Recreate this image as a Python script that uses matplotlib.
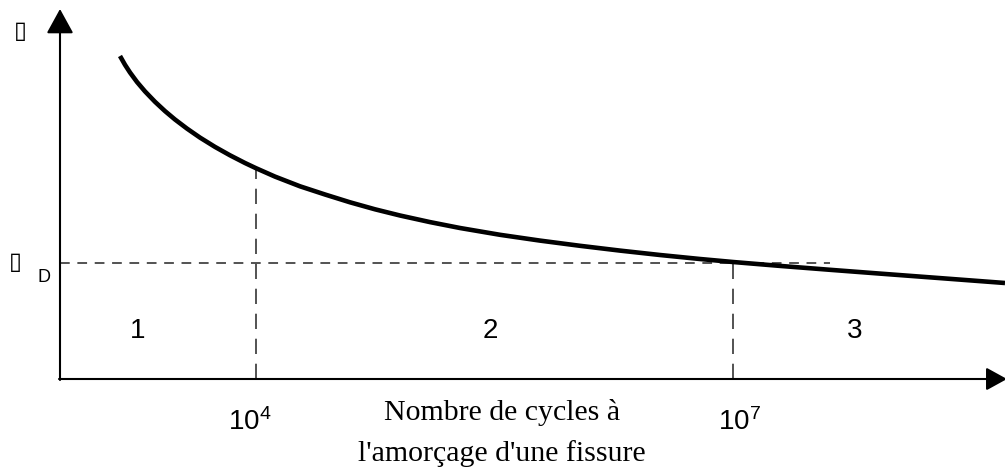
"""Courbe de Wohler : contrainte vs nombre de cycles a l'amorcage d'une fissure.

Trois domaines : 1 (fatigue oligocyclique), 2 (endurance limitee),
3 (endurance illimitee, sous la limite sigma_D).
"""

import matplotlib

matplotlib.use("Agg")
import matplotlib.pyplot as plt

# Courbe (abscisse / ordonnee en unites arbitraires)
curve_x = [60, 65, 70, 77, 85, 95, 105, 115, 127, 140, 155, 170, 185, 196,
           215, 240, 265, 290, 315, 340, 370, 400, 440, 480, 520, 560, 600,
           640, 673, 720, 770, 820, 880, 945]
curve_y = [323, 314.2, 306.5, 297, 287.6, 277.2, 267.9, 259.5, 250.4, 241.4,
           232.1, 223.7, 216, 210.8, 202.4, 192.7, 184.5, 176.7, 169.7, 163.5,
           156.9, 151, 144.2, 138.4, 133.2, 128.4, 124, 120, 117, 113.1,
           109.2, 105.4, 100.9, 96]

# Reperes : 10^4 et 10^7 cycles, limite d'endurance sigma_D
tick_x = [196, 673]
tick_labels = [r"$\mathrm{10^4}$", r"$\mathrm{10^7}$"]
sigma_d = 116.5
sigma_d_end = 770

# Domaines
zone_labels = ["1", "2", "3"]
zone_x = [78, 430, 795]
zone_y = 48

xlabel_lines = ["Nombre de cycles à", "l'amorçage d'une fissure"]


def main():
    plt.rcParams["mathtext.fontset"] = "custom"
    plt.rcParams["mathtext.rm"] = "Liberation Sans"
    plt.rcParams["lines.scale_dashes"] = False

    fig = plt.figure(figsize=(10.05, 4.68), dpi=100)
    ax = fig.add_axes([0, 0, 1, 1])
    ax.set_xlim(-60, 945)
    ax.set_ylim(-89, 379)
    ax.axis("off")

    # axes avec fleches
    arrow = dict(arrowstyle="-|>,head_length=0.4,head_width=0.22",
                 mutation_scale=38, lw=1.5, color="black",
                 shrinkA=0, shrinkB=0)
    ax.annotate("", xy=(0, 370), xytext=(0, -1), arrowprops=arrow,
                annotation_clip=False)
    arrow_x = dict(arrow, mutation_scale=32)
    ax.annotate("", xy=(947, 0), xytext=(-1, 0), arrowprops=arrow_x,
                annotation_clip=False)

    # traits pointilles
    curve_at = dict(zip(curve_x, curve_y))
    for xv in tick_x:
        ax.plot([xv, xv], [0, curve_at[xv]], color="#444444", lw=1.3,
                dashes=(11, 7))
    ax.plot([0, sigma_d_end], [sigma_d, sigma_d], color="#444444", lw=1.3,
            dashes=(7, 5.5))

    # courbe de Wohler
    ax.plot(curve_x, curve_y, color="black", lw=3.3, solid_capstyle="butt",
            solid_joinstyle="round")

    for lab, xv in zip(zone_labels, zone_x):
        ax.text(xv, zone_y, lab, ha="center", va="center", fontsize=20,
                family="Liberation Sans")

    for lab, xv in zip(tick_labels, tick_x):
        ax.text(xv - 6 if xv < 300 else xv + 7, -51, lab, ha="center",
                va="baseline", fontsize=20)

    ax.text(442, -41, xlabel_lines[0], ha="center", va="baseline",
            fontsize=21.5, family="Liberation Serif")
    ax.text(442, -82, xlabel_lines[1], ha="center", va="baseline",
            fontsize=21.5, family="Liberation Serif")

    # symboles sigma (rendus en glyphe manquant dans l'original)
    ax.text(-40, 348, "▯", ha="center", va="center", fontsize=17,
            family="DejaVu Sans")
    ax.text(-45, 117, "▯", ha="center", va="center", fontsize=17,
            family="DejaVu Sans")
    ax.text(-16, 102, "D", ha="center", va="center", fontsize=13,
            family="Liberation Sans")

    fig.savefig("out.png", dpi=100)


if __name__ == "__main__":
    main()
